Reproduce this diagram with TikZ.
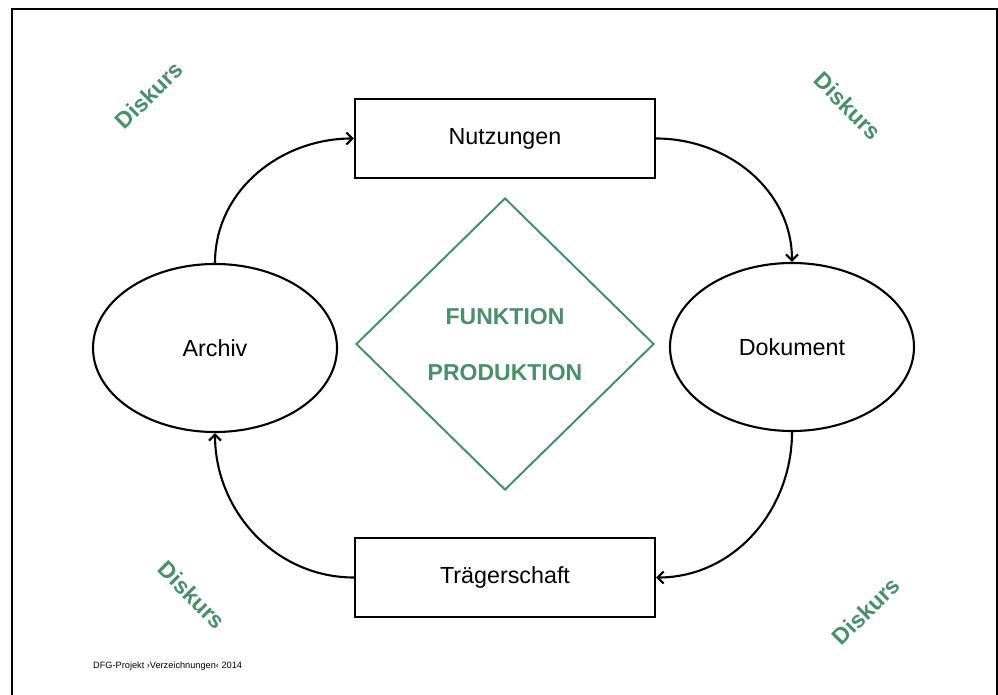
\documentclass[tikz,border=0pt]{standalone}
\usepackage{fontspec}
\setmainfont{Liberation Sans}
\usetikzlibrary{shapes.geometric,arrows.meta}
\definecolor{dgreen}{RGB}{74,143,108}
\begin{document}
\begin{tikzpicture}[x=1pt,y=1pt,
  lbl/.style={font=\fontsize{23.3}{28}\selectfont, text=black},
  boxnode/.style={draw, line width=2.1pt, minimum width=300pt, minimum height=79pt, inner sep=0pt, lbl},
  ellnode/.style={draw, ellipse, line width=2.1pt, minimum width=244pt, minimum height=168pt, inner sep=0pt, lbl},
  greentext/.style={font=\bfseries\fontsize{23}{28}\selectfont, text=dgreen},
  flow/.style={draw, line width=2.1pt, -{Straight Barb[length=6pt,width=12pt,line width=2.1pt]}}]
\useasboundingbox (0,-695) rectangle (998,0);
\fill[white] (0,-695) rectangle (998,0);
\draw[line width=2.2pt] (12,-695) -- (12,-9) -- (997,-9) -- (997,-695);

\node[boxnode] (nutz) at (505,-138.5) {Nutzungen};
\node[boxnode] (traeg) at (505,-577.5) {Trägerschaft};
\node[ellnode] (archiv) at (215,-348) {Archiv};
\node[ellnode] (dok) at (792,-347) {Dokument};
\node[draw=dgreen, diamond, line width=2pt, minimum width=298pt, minimum height=292pt, inner sep=0pt] (dia) at (505,-344) {};
\node[greentext] (funk) at (505,-317) {FUNKTION};
\node[greentext] (prod) at (505,-373) {PRODUKTION};

\node[greentext, rotate=45] (d1) at (149,-95) {Diskurs};
\node[greentext, rotate=-45] (d2) at (848,-106) {Diskurs};
\node[greentext, rotate=-45] (d3) at (192,-595) {Diskurs};
\node[greentext, rotate=45] (d4) at (866,-611) {Diskurs};

\node[anchor=base west, font=\fontsize{9.2}{11}\selectfont, inner sep=0pt] (foot) at (93,-668) {DFG-Projekt ›Verzeichnungen‹ 2014};

\path[flow] (archiv.north) to[out=90, in=180] (nutz.west);
\path[flow] (nutz.east) to[out=0, in=90] (dok.north);
\path[flow] (dok.south) to[out=-90, in=0] (traeg.east);
\path[flow] (traeg.west) to[out=180, in=-90] (archiv.south);
\end{tikzpicture}
\end{document}
